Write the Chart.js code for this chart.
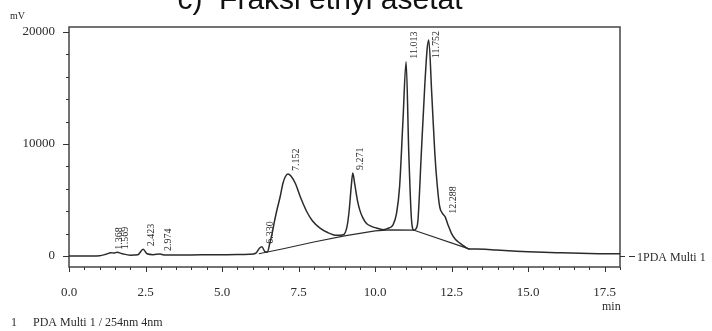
<!DOCTYPE html>
<html>
<head>
<meta charset="utf-8">
<script src="https://cdn.jsdelivr.net/npm/chart.js@4.4.0/dist/chart.umd.min.js"></script>
<style>
  body { margin: 0; background: #fff; }
  canvas { display: block; }
</style>
</head>
<body>
<canvas id="myChart" width="712" height="331"></canvas>
<script>
// chromatogram trace (min, mV)
const times = [0.0, 0.5, 1.0, 1.2, 1.368, 1.47, 1.569, 1.75, 2.0, 2.25, 2.423, 2.55, 2.75, 2.974, 3.1,
  3.5, 4.0, 4.5, 5.0, 5.5, 5.9, 6.1, 6.22, 6.3, 6.4, 6.48, 6.56, 6.65, 6.72, 6.8, 6.89, 6.99, 7.07,
  7.152, 7.25, 7.4, 7.54, 7.66, 7.76, 7.95, 8.19, 8.45, 8.74, 8.96, 9.08, 9.15, 9.22, 9.271, 9.33,
  9.42, 9.5, 9.6, 9.72, 9.88, 10.04, 10.26, 10.45, 10.58, 10.7, 10.8, 10.91, 11.013, 11.1, 11.19,
  11.27, 11.35, 11.4, 11.51, 11.62, 11.7, 11.752, 11.85, 11.95, 12.03, 12.11, 12.2, 12.288, 12.38,
  12.49, 12.62, 12.77, 12.92, 13.09, 13.3, 13.6, 13.96, 14.5, 15.0, 15.5, 16.0, 16.7, 17.3, 18.0];
const signal = [0, 0, 30, 150, 300, 260, 340, 200, 80, 120, 600, 200, 120, 180, 100,
  100, 100, 110, 120, 130, 150, 250, 700, 830, 400, 350, 1150, 2200, 3200, 4200, 5200, 6500, 7100,
  7320, 7150, 6450, 5400, 4600, 4000, 3150, 2520, 2100, 1850, 1900, 2600, 4000, 6200, 7420, 6500,
  5000, 4100, 3400, 2900, 2650, 2500, 2350, 2500, 2760, 3800, 6200, 12100, 17350, 9200, 3200,
  2300, 2500, 3200, 9200, 15100, 18500, 19300, 14500, 9200, 6300, 4400, 3800, 3500, 2800,
  2050, 1500, 1150, 850, 620, 620, 600, 530, 450, 380, 330, 290, 240, 210, 200];

// integration baseline
const baseTimes = [6.2, 7.0, 8.0, 9.0, 10.0, 10.5, 11.25, 13.09];
const baseValues = [200, 650, 1250, 1800, 2250, 2330, 2320, 620];

// peak annotations
const peakTimes = [1.368, 1.569, 2.423, 2.974, 6.330, 7.152, 9.271, 11.013, 11.752, 12.288];
const peakHeights = [300, 340, 600, 180, 830, 7320, 7420, 17350, 19300, 3500];
const peakLabels = ['1.368', '1.569', '2.423', '2.974', '6.330', '7.152', '9.271', '11.013', '11.752', '12.288'];

const xTickValues = [0, 2.5, 5, 7.5, 10, 12.5, 15, 17.5];
const xTickLabels = ['0.0', '2.5', '5.0', '7.5', '10.0', '12.5', '15.0', '17.5'];
const yTickValues = [0, 10000, 20000];
const yTickLabels = ['0', '10000', '20000'];

const serif = '"Liberation Serif", "DejaVu Serif", serif';
const ink = '#2b2b2b';

const xTicks = [];
for (let v = 0; v <= 18.0001; v += 0.5) xTicks.push(Math.round(v * 10) / 10);
const yTicks = [];
for (let v = 0; v <= 20000; v += 2000) yTicks.push(v);

const deco = {
  id: 'deco',
  beforeDatasetsDraw(chart) {
    const {ctx, chartArea: a} = chart;
    ctx.save();
    ctx.strokeStyle = '#444';
    ctx.lineWidth = 1.5;
    ctx.strokeRect(a.left, a.top, a.right - a.left, a.bottom - a.top);
    ctx.restore();
  },
  afterDraw(chart) {
    const {ctx, chartArea: a} = chart;
    const xs = chart.scales.x, ys = chart.scales.y;
    ctx.save();
    ctx.strokeStyle = '#333';
    ctx.lineWidth = 1;
    // x ticks
    xTicks.forEach(v => {
      const px = Math.round(xs.getPixelForValue(v)) + 0.5;
      const major = xTickValues.includes(v);
      ctx.beginPath();
      ctx.moveTo(px, a.bottom);
      ctx.lineTo(px, a.bottom + (major ? 5 : 3));
      ctx.stroke();
    });
    // y ticks
    yTicks.forEach(v => {
      const py = Math.round(ys.getPixelForValue(v)) + 0.5;
      const major = yTickValues.includes(v);
      ctx.beginPath();
      ctx.moveTo(a.left, py);
      ctx.lineTo(a.left - (major ? 6 : 3), py);
      ctx.stroke();
    });

    // peak labels
    ctx.fillStyle = ink;
    ctx.font = '10px ' + serif;
    ctx.textAlign = 'left';
    ctx.textBaseline = 'top';
    peakTimes.forEach((t, i) => {
      const px = xs.getPixelForValue(t) + 3;
      const w = ctx.measureText(peakLabels[i]).width;
      let py = ys.getPixelForValue(peakHeights[i]) - 3;
      if (py - w < a.top + 4) py = a.top + 4 + w;
      ctx.save();
      ctx.translate(px, py);
      ctx.rotate(-Math.PI / 2);
      ctx.fillText(peakLabels[i], 0, 0);
      ctx.restore();
    });

    // channel marker on the right
    const y0 = Math.round(ys.getPixelForValue(0)) + 0.5;
    ctx.beginPath();
    ctx.moveTo(a.right, y0);
    ctx.lineTo(a.right + 5, y0);
    ctx.moveTo(a.right + 9, y0);
    ctx.lineTo(a.right + 15, y0);
    ctx.stroke();
    ctx.font = '12px ' + serif;
    ctx.textBaseline = 'middle';
    ctx.fillText('1PDA Multi 1', a.right + 17, y0 + 1);

    ctx.textBaseline = 'alphabetic';
    ctx.font = '10px ' + serif;
    ctx.fillText('mV', 10, 19);
    ctx.font = '12px ' + serif;
    ctx.fillText('min', 602, 310);
    ctx.fillText('1', 11, 326);
    ctx.fillText('PDA Multi 1 / 254nm 4nm', 33, 326);

    // title (cut at the top edge)
    ctx.fillStyle = '#111';
    ctx.font = '30px "Liberation Sans", Arial, sans-serif';
    ctx.textAlign = 'center';
    ctx.fillText('c)  Fraksi ethyl asetat', 320, 9);
    ctx.restore();
  }
};

const ctx = document.getElementById('myChart').getContext('2d');

const data = {
  datasets: [
    {
      data: times.map((t, i) => ({x: t, y: signal[i]})),
      borderColor: ink,
      borderWidth: 1.5,
      pointRadius: 0,
      cubicInterpolationMode: 'monotone',
      fill: false
    },
    {
      data: baseTimes.map((t, i) => ({x: t, y: baseValues[i]})),
      borderColor: ink,
      borderWidth: 1.2,
      pointRadius: 0,
      tension: 0,
      fill: false
    }
  ]
};

const config = {
  type: 'line',
  data: data,
  plugins: [deco],
  options: {
    responsive: false,
    animation: false,
    devicePixelRatio: 1,
    layout: { padding: { top: 27, right: 92, left: 0, bottom: 0 } },
    plugins: { legend: { display: false }, tooltip: { enabled: false } },
    scales: {
      x: {
        type: 'linear',
        min: 0,
        max: 18,
        afterFit: s => { s.height = 64; },
        afterBuildTicks: s => { s.ticks = xTickValues.map(v => ({value: v})); },
        grid: { display: false },
        border: { display: false },
        ticks: {
          autoSkip: false,
          maxRotation: 0,
          padding: 10,
          color: ink,
          font: { family: serif, size: 13 },
          callback: v => xTickLabels[xTickValues.indexOf(v)] ?? ''
        }
      },
      y: {
        min: -980,
        max: 20450,
        afterFit: s => { s.width = 69; },
        afterBuildTicks: s => { s.ticks = yTickValues.map(v => ({value: v})); },
        grid: { display: false },
        border: { display: false },
        ticks: {
          padding: 6,
          color: ink,
          font: { family: serif, size: 13 },
          callback: v => yTickLabels[yTickValues.indexOf(v)] ?? ''
        }
      }
    }
  }
};

const myChart = new Chart(ctx, config);
</script>
</body>
</html>
